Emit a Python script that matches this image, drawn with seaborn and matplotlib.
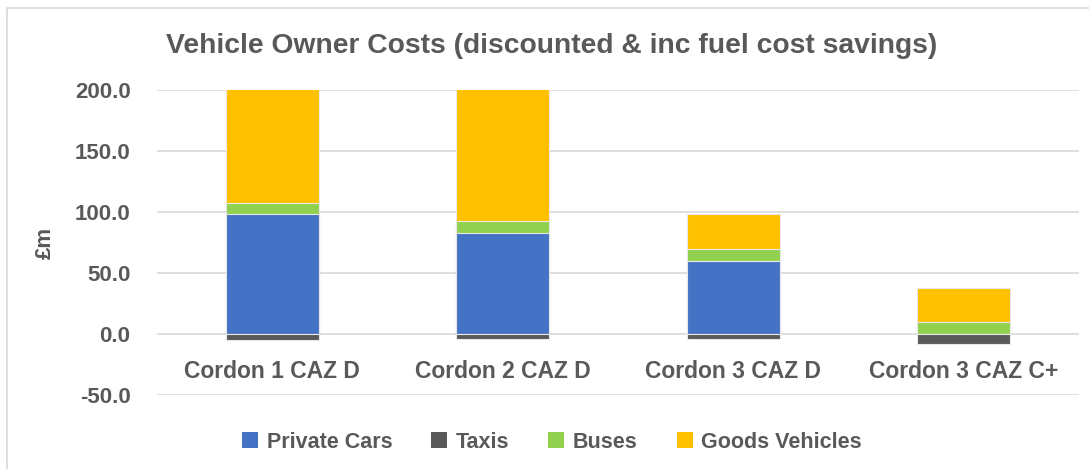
import matplotlib
matplotlib.use("Agg")
import matplotlib.pyplot as plt
from matplotlib.patches import Patch, Rectangle
import seaborn as sns
import pandas as pd
import numpy as np

categories = ["Cordon 1 CAZ D", "Cordon 2 CAZ D", "Cordon 3 CAZ D", "Cordon 3 CAZ C+"]
private_cars = [98.0, 83.0, 60.0, 0.0]
taxis = [-5.0, -4.0, -4.0, -8.0]
buses = [9.0, 9.5, 9.5, 9.5]
goods_vehicles = [140.0, 150.0, 28.5, 28.5]

series_names = ["Private Cars", "Taxis", "Buses", "Goods Vehicles"]
colors = {"Private Cars": "#4472C4", "Taxis": "#595959", "Buses": "#92D050", "Goods Vehicles": "#FFC000"}
yticks = [-50, 0, 50, 100, 150, 200]

sns.set_theme(style="white")
plt.rcParams["font.family"] = ["Liberation Sans", "DejaVu Sans"]
txt = "#595959"

fig = plt.figure(figsize=(10.89, 4.69), dpi=100)
ax = fig.add_axes([157/1089, 1-395/469, (1079-157)/1089, (395-90)/469])

df = pd.DataFrame({"cat": categories, "cars": private_cars, "taxis": taxis,
                   "buses": buses, "goods": goods_vehicles})
df["cum_buses"] = df["cars"] + df["buses"]
df["cum_goods"] = df["cum_buses"] + df["goods"]

w = 0.405
for col, name in [("cum_goods", "Goods Vehicles"), ("cum_buses", "Buses"),
                  ("cars", "Private Cars"), ("taxis", "Taxis")]:
    sns.barplot(data=df, x="cat", y=col, color=colors[name], width=w, ax=ax,
                edgecolor="#e8e8e8", linewidth=0.8, saturation=1, errorbar=None, zorder=3)

ax.set_ylim(-50, 200)
ax.set_xlim(-0.5, 3.5)
ax.set_yticks(yticks)
ax.set_yticklabels([f"{v:.1f}" for v in yticks], fontsize=16, fontweight="bold", color=txt)
ax.yaxis.grid(True, color="#d9d9d9", linewidth=1.2, zorder=0)
ax.set_axisbelow(True)
for s in ax.spines.values():
    s.set_visible(False)
ax.spines["bottom"].set_position(("data", 0))
ax.tick_params(axis="x", length=0, pad=19)
ax.tick_params(axis="y", length=0, pad=19)
ax.set_xticks(range(len(categories)))
ax.set_xticklabels(categories, fontsize=16.5, fontweight="bold", color=txt)
ax.set_xlabel("")
ax.set_ylabel("£m", fontsize=16, fontweight="bold", color=txt, labelpad=14)

fig.text(552/1089, 1-46/469, "Vehicle Owner Costs (discounted & inc fuel cost savings)",
         ha="center", va="center", fontsize=20.3, fontweight="bold", color=txt)

handles = [Patch(facecolor=colors[n], edgecolor="none", label=n) for n in series_names]
fig.legend(handles=handles, loc="center", bbox_to_anchor=(552/1089, 1-442/469), ncol=4,
           frameon=False, prop={"size": 15.5, "weight": "bold"}, labelcolor=txt,
           handlelength=0.75, handleheight=0.75, handletextpad=0.4, columnspacing=1.8)

fig.patches.append(Rectangle((7/1089, -0.05), 1.2, 1.05 - 8/469, transform=fig.transFigure,
                             fill=False, edgecolor="#d9d9d9", linewidth=1.2))

fig.savefig("out.png", dpi=100)
